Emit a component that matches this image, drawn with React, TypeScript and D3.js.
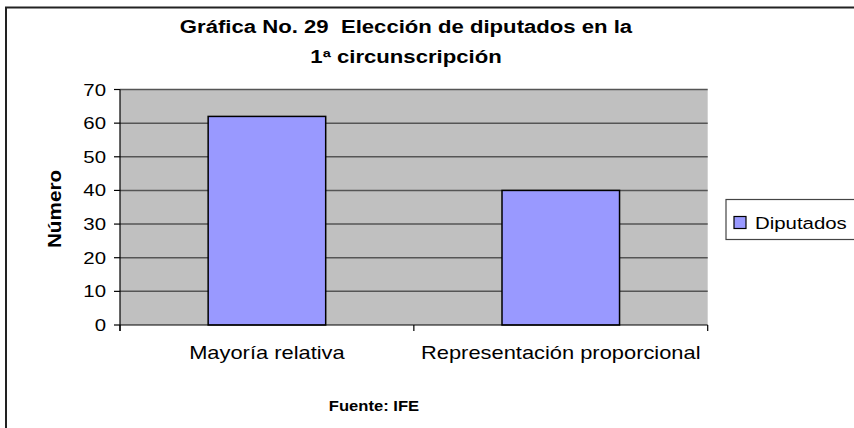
import React from "react";
import * as d3 from "d3";

const categories = ["Mayoría relativa", "Representación proporcional"];
const diputados = [62, 40];
const yTicks = [0, 10, 20, 30, 40, 50, 60, 70];
const seriesName = "Diputados";
const titleLines = ["Gráfica No. 29  Elección de diputados en la", "1ª circunscripción"];
const yTitle = "Número";
const footer = "Fuente: IFE";

const W = 854, H = 428;
const plot = { left: 120, right: 707.7, top: 89.5, bottom: 325 };
const FONT = "'Liberation Sans', Arial, sans-serif";

function T({ x, y, size, bold, anchor = "middle", rotate = 0, sx = 1.2, children }: any) {
  return (
    <text
      transform={`translate(${x},${y}) rotate(${rotate}) scale(${sx},1)`}
      fontSize={size}
      fontWeight={bold ? "bold" : "normal"}
      textAnchor={anchor}
      fontFamily={FONT}
      fill="#000"
      style={{ whiteSpace: "pre" }}
    >
      {children}
    </text>
  );
}

export default function App() {
  const y = d3.scaleLinear().domain([0, 70]).range([plot.bottom, plot.top]);
  const x = d3
    .scaleBand<string>()
    .domain(categories)
    .range([plot.left, plot.right])
    .paddingInner(0.6)
    .paddingOuter(0.3);
  const catEdges = [plot.left, plot.left + (plot.right - plot.left) / 2, plot.right];

  return (
    <svg width={W} height={H} style={{ position: "absolute", left: 0, top: 0 }}>
      <rect x={0} y={0} width={W} height={H} fill="#fff" />
      <rect x={6} y={7.5} width={880} height={440} fill="none" stroke="#222" strokeWidth={2} />
      {titleLines.map((t, i) => (
        <T key={i} x={406} y={33 + i * 30} size={18} sx={1.23} bold>
          {t}
        </T>
      ))}
      <rect x={plot.left} y={plot.top} width={plot.right - plot.left} height={plot.bottom - plot.top} fill="#c0c0c0" />
      {yTicks.filter((t) => t > 0).map((t) => (
        <line key={t} x1={plot.left} x2={plot.right} y1={y(t)} y2={y(t)} stroke="#555" strokeWidth={1.5} />
      ))}
      {categories.map((c, i) => (
        <rect
          key={c}
          x={x(c)}
          y={y(diputados[i])}
          width={x.bandwidth()}
          height={y(0) - y(diputados[i])}
          fill="#9999ff"
          stroke="#000"
          strokeWidth={1.5}
        />
      ))}
      <line x1={plot.left} x2={plot.left} y1={plot.top} y2={plot.bottom + 6} stroke="#000" strokeWidth={1.2} />
      <line x1={plot.left} x2={plot.right} y1={plot.bottom} y2={plot.bottom} stroke="#000" strokeWidth={1.2} />
      {yTicks.map((t) => (
        <g key={t}>
          <line x1={plot.left - 6} x2={plot.left} y1={y(t)} y2={y(t)} stroke="#000" strokeWidth={1.2} />
          <T x={106} y={y(t) + 6} size={17} anchor="end">
            {t}
          </T>
        </g>
      ))}
      {catEdges.map((e, i) => (
        <line key={i} x1={e} x2={e} y1={plot.bottom} y2={plot.bottom + 6} stroke="#000" strokeWidth={1.2} />
      ))}
      {categories.map((c) => (
        <T key={c} x={(x(c) as number) + x.bandwidth() / 2} y={359} size={17.5} sx={1.25}>
          {c}
        </T>
      ))}
      <T x={61} y={209} size={18} sx={1.15} bold rotate={-90}>
        {yTitle}
      </T>
      <T x={374} y={411} size={15.5} sx={1.07} bold>
        {footer}
      </T>
      <rect x={726} y={199.5} width={160} height={40} fill="#fff" stroke="#444" strokeWidth={1.2} />
      <rect x={734} y={216.5} width={12} height={12} fill="#9999ff" stroke="#000" strokeWidth={1.2} />
      <T x={755} y={228.5} size={17} anchor="start">
        {seriesName}
      </T>
    </svg>
  );
}
